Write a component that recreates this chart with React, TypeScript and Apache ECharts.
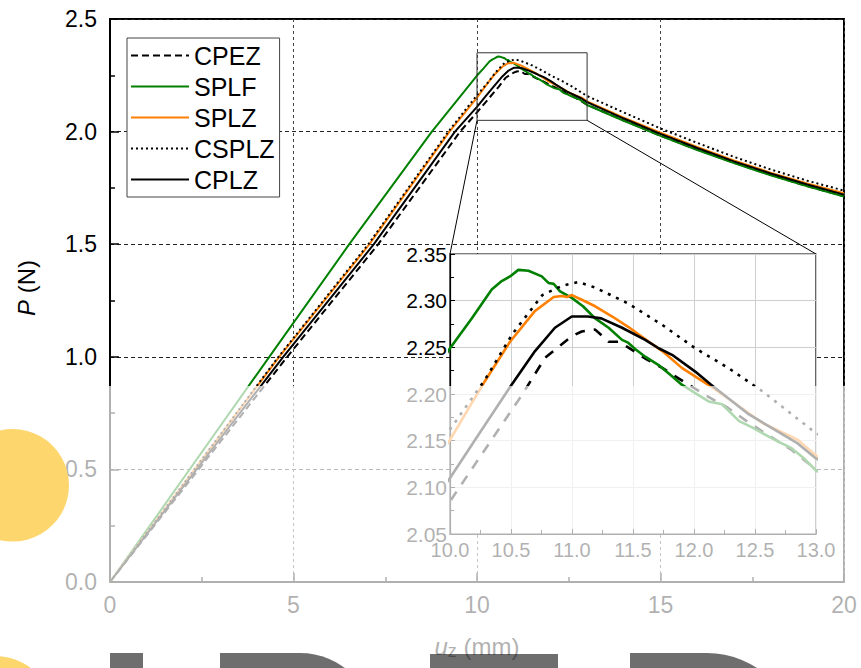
import React, { useEffect, useRef } from "react";
import * as echarts from "echarts";

// ---------- data ----------
const seriesNames = ["CPEZ", "SPLF", "SPLZ", "CSPLZ", "CPLZ"];

const cpezData = [
  [0, 0], [4.83, 1.0], [7.31, 1.5], [9.54, 2.0], [10, 2.085], [10.315, 2.146], [10.59, 2.199],
  [10.78, 2.239], [11.0, 2.262], [11.08, 2.267], [11.19, 2.269], [11.3, 2.256], [11.38, 2.256],
  [11.46, 2.25], [11.6, 2.238], [11.74, 2.228], [11.87, 2.217], [12.09, 2.199], [12.28, 2.185],
  [12.42, 2.172], [12.56, 2.16], [12.8, 2.14], [13.0, 2.119], [14, 2.049], [15, 1.982],
  [16, 1.92], [17, 1.862], [18, 1.808], [19, 1.758], [20, 1.713],
];
const splfData = [
  [0, 0], [4.34, 1.0], [6.52, 1.5], [8.77, 2.0], [10, 2.249], [10.178, 2.281], [10.342, 2.312],
  [10.424, 2.321], [10.492, 2.326], [10.56, 2.333], [10.643, 2.332], [10.752, 2.326],
  [10.807, 2.319], [10.85, 2.318], [10.902, 2.31], [10.998, 2.303], [11.09, 2.294],
  [11.19, 2.281], [11.3, 2.271], [11.41, 2.258], [11.46, 2.255], [11.52, 2.248], [11.6, 2.24],
  [11.71, 2.231], [11.82, 2.219], [11.9, 2.21], [12.01, 2.201], [12.12, 2.192], [12.23, 2.189],
  [12.37, 2.171], [12.48, 2.164], [12.56, 2.158], [12.69, 2.149], [12.8, 2.142], [12.91, 2.13],
  [13.0, 2.118], [14, 2.048], [15, 1.981], [16, 1.918], [17, 1.86], [18, 1.806], [19, 1.757],
  [20, 1.712],
];
const splzData = [
  [0, 0], [4.61, 1.0], [7.07, 1.5], [9.25, 2.0], [10, 2.151], [10.287, 2.214], [10.492, 2.256],
  [10.697, 2.289], [10.85, 2.304], [10.916, 2.305], [10.96, 2.304], [10.998, 2.306],
  [11.08, 2.301], [11.19, 2.294], [11.33, 2.283], [11.46, 2.272], [11.63, 2.256], [11.74, 2.246],
  [11.9, 2.228], [12.14, 2.208], [12.39, 2.185], [12.56, 2.169], [12.85, 2.151], [13.0, 2.134],
  [14, 2.062], [15, 1.995], [16, 1.932], [17, 1.872], [18, 1.818], [19, 1.77], [20, 1.726],
];
const csplzData = [
  [0, 0], [4.59, 1.0], [7.04, 1.5], [9.22, 2.0], [10, 2.162], [10.29, 2.216], [10.51, 2.264],
  [10.757, 2.306], [10.92, 2.316], [11.05, 2.32], [11.19, 2.314], [11.46, 2.297], [11.74, 2.274],
  [12.01, 2.249], [12.28, 2.228], [12.56, 2.203], [13.0, 2.158], [14, 2.085], [15, 2.014],
  [16, 1.95], [17, 1.888], [18, 1.832], [19, 1.782], [20, 1.738],
];
const cplzData = [
  [0, 0], [4.72, 1.0], [7.19, 1.5], [9.4, 2.0], [10, 2.11], [10.232, 2.156], [10.505, 2.21],
  [10.697, 2.246], [10.86, 2.271], [10.998, 2.283], [11.13, 2.283], [11.24, 2.281], [11.41, 2.271],
  [11.6, 2.258], [11.71, 2.249], [11.82, 2.242], [12.01, 2.224], [12.14, 2.21], [12.44, 2.179],
  [12.85, 2.147], [13.0, 2.131], [14, 2.058], [15, 1.99], [16, 1.927], [17, 1.868], [18, 1.814],
  [19, 1.765], [20, 1.72],
];
const allData = [cpezData, splfData, splzData, csplzData, cplzData];

const mainXRange = [0, 20];
const mainYRange = [0, 2.5];
const insetXRange = [10, 13];
const insetYRange = [2.05, 2.35];

// ---------- styles ----------
const FONT = "'Liberation Sans', Arial, Helvetica, sans-serif";
const colors = ["#000000", "#008000", "#ff7f00", "#000000", "#000000"];
const mainDash: any[] = [[7, 4], "solid", "solid", [2, 3], "solid"];
const insetDash: any[] = [[10, 9], "solid", "solid", [3, 6], "solid"];

export default function App() {
  const ref = useRef<HTMLDivElement>(null);

  useEffect(() => {
    const chart = echarts.init(ref.current!, undefined, { renderer: "svg" });

    const mainSeries = seriesNames.map((name, i) => ({
      type: "line",
      name,
      xAxisIndex: 0,
      yAxisIndex: 0,
      data: allData[i],
      showSymbol: false,
      symbol: "none",
      z: 2,
      lineStyle: { color: colors[i], width: 2, type: mainDash[i] },
      itemStyle: { color: colors[i] },
    }));
    const insetSeries = seriesNames.map((name, i) => ({
      type: "line",
      name,
      xAxisIndex: 1,
      yAxisIndex: 1,
      data: allData[i],
      showSymbol: false,
      symbol: "none",
      clip: true,
      z: 12,
      lineStyle: { color: colors[i], width: 2.6, type: insetDash[i] },
      itemStyle: { color: colors[i] },
    }));
    const zoomRect = {
      type: "line",
      name: "zoomRect",
      xAxisIndex: 0,
      yAxisIndex: 0,
      data: [
        [insetXRange[0], insetYRange[0]],
        [insetXRange[1], insetYRange[0]],
        [insetXRange[1], insetYRange[1]],
        [insetXRange[0], insetYRange[1]],
        [insetXRange[0], insetYRange[0]],
      ],
      showSymbol: false,
      symbol: "none",
      silent: true,
      z: 3,
      lineStyle: { color: "#333", width: 1 },
    };

    const axisLabelMain = { color: "#000", fontSize: 23, fontFamily: FONT };

    chart.setOption({
      animation: false,
      backgroundColor: "#fff",
      textStyle: { fontFamily: FONT },
      grid: [
        {
          left: 110, top: 19, width: 734, height: 563,
          show: true, borderColor: "#000", borderWidth: 2, backgroundColor: "#fff",
        },
        {
          left: 450, top: 254, width: 366, height: 280, z: 10,
          show: true, borderColor: "#000", borderWidth: 1.2, backgroundColor: "#fff",
        },
      ],
      legend: {
        data: seriesNames,
        orient: "vertical",
        left: 127,
        top: 38,
        padding: [5, 5, 5, 3],
        itemWidth: 58,
        itemHeight: 14,
        itemGap: 6,
        backgroundColor: "#fff",
        borderColor: "#444",
        borderWidth: 1,
        borderRadius: 0,
        itemStyle: { opacity: 0 },
        textStyle: { fontSize: 25, color: "#000", fontFamily: FONT },
      },
      xAxis: [
        {
          type: "value", gridIndex: 0, min: mainXRange[0], max: mainXRange[1], interval: 5,
          name: "{i|u}{s|z} (mm)",
          nameLocation: "middle",
          nameGap: 50,
          nameTextStyle: {
            fontSize: 24, color: "#000", fontFamily: FONT, lineHeight: 28,
            rich: {
              i: { fontStyle: "italic", fontSize: 24, lineHeight: 28, fontFamily: FONT, color: "#000" },
              s: { fontSize: 18, lineHeight: 18, verticalAlign: "bottom", fontFamily: FONT, color: "#000" },
            },
          },
          axisLine: { lineStyle: { color: "#000", width: 2 } },
          axisTick: { inside: true, length: 9, lineStyle: { color: "#000", width: 1.5 } },
          minorTick: { show: true, splitNumber: 2, length: 5, lineStyle: { color: "#000", width: 1.5 } },
          splitLine: { show: true, lineStyle: { color: "#444", width: 1, type: [3, 3] } },
          axisLabel: { ...axisLabelMain, margin: 11 },
        },
        {
          type: "value", gridIndex: 1, min: insetXRange[0], max: insetXRange[1], interval: 0.5, z: 11,
          axisLine: { lineStyle: { color: "#000", width: 1.2 } },
          axisTick: { inside: true, length: 5, lineStyle: { color: "#000" } },
          minorTick: { show: true, splitNumber: 2, length: 4, lineStyle: { color: "#000" } },
          splitLine: { show: true, lineStyle: { color: "#cfcfcf", width: 1 } },
          axisLabel: {
            color: "#000", fontSize: 20, fontFamily: FONT, margin: 6,
            formatter: (v: number) => v.toFixed(1),
          },
        },
      ],
      yAxis: [
        {
          type: "value", gridIndex: 0, min: mainYRange[0], max: mainYRange[1], interval: 0.5,
          name: "{i|P} (N)",
          nameLocation: "middle",
          nameGap: 72,
          nameTextStyle: {
            fontSize: 24, color: "#000", fontFamily: FONT, padding: [0, 0, 0, 25],
            rich: { i: { fontStyle: "italic", fontSize: 24, fontFamily: FONT, color: "#000" } },
          },
          axisLine: { lineStyle: { color: "#000", width: 2 } },
          axisTick: { inside: true, length: 9, lineStyle: { color: "#000", width: 1.5 } },
          minorTick: { show: true, splitNumber: 2, length: 5, lineStyle: { color: "#000", width: 1.5 } },
          splitLine: { show: true, lineStyle: { color: "#222", width: 1, type: [4, 3] } },
          axisLabel: { ...axisLabelMain, margin: 13, formatter: (v: number) => v.toFixed(1) },
        },
        {
          type: "value", gridIndex: 1, min: insetYRange[0], max: insetYRange[1], interval: 0.05, z: 11,
          axisLine: { lineStyle: { color: "#000", width: 1.2 } },
          axisTick: { inside: true, length: 5, lineStyle: { color: "#000" } },
          minorTick: { show: true, splitNumber: 2, length: 4, lineStyle: { color: "#000" } },
          splitLine: { show: true, lineStyle: { color: "#cfcfcf", width: 1 } },
          axisLabel: {
            color: "#000", fontSize: 21, fontFamily: FONT, margin: 3,
            formatter: (v: number) => v.toFixed(2),
          },
        },
      ],
      series: [...mainSeries, zoomRect, ...insetSeries],
    });

    // connector lines between zoom rectangle and inset
    const a1 = chart.convertToPixel({ gridIndex: 0 } as any, [insetXRange[0], insetYRange[0]]) as number[];
    const b1 = chart.convertToPixel({ gridIndex: 1 } as any, [insetXRange[0], insetYRange[1]]) as number[];
    const a2 = chart.convertToPixel({ gridIndex: 0 } as any, [insetXRange[1], insetYRange[0]]) as number[];
    const b2 = chart.convertToPixel({ gridIndex: 1 } as any, [insetXRange[1], insetYRange[1]]) as number[];

    const veil = "rgba(0,0,0,0.57)";
    const yellow = "#fdd66e";
    chart.setOption({
      graphic: [
        { type: "line", z: 5, silent: true, shape: { x1: a1[0], y1: a1[1], x2: b1[0], y2: b1[1] }, style: { stroke: "#000", lineWidth: 1 } },
        { type: "line", z: 5, silent: true, shape: { x1: a2[0], y1: a2[1], x2: b2[0], y2: b2[1] }, style: { stroke: "#000", lineWidth: 1 } },
        // watermark overlay seen in the reference
        { type: "rect", z: 100, silent: true, shape: { x: 0, y: 386, width: 861, height: 282 }, style: { fill: "rgba(255,255,255,0.69)" } },
        { type: "circle", z: 101, silent: true, shape: { cx: 12.7, cy: 485.3, r: 56.3 }, style: { fill: yellow } },
        { type: "circle", z: 101, silent: true, shape: { cx: -4, cy: 712, r: 56 }, style: { fill: yellow } },
        { type: "rect", z: 101, silent: true, shape: { x: 110, y: 653, width: 33, height: 15 }, style: { fill: veil } },
        { type: "rect", z: 101, silent: true, shape: { x: 220, y: 653, width: 80, height: 15 }, style: { fill: veil } },
        { type: "sector", z: 101, silent: true, shape: { cx: 300, cy: 728, r0: 0, r: 75, startAngle: -Math.PI / 2, endAngle: 0, clockwise: true }, style: { fill: veil } },
        { type: "rect", z: 101, silent: true, shape: { x: 430, y: 654, width: 128, height: 14 }, style: { fill: veil } },
        { type: "rect", z: 101, silent: true, shape: { x: 630, y: 653, width: 77, height: 15 }, style: { fill: veil } },
        { type: "sector", z: 101, silent: true, shape: { cx: 707, cy: 744, r0: 0, r: 91, startAngle: -Math.PI / 2, endAngle: 0, clockwise: true }, style: { fill: veil } },
      ],
    });

    return () => chart.dispose();
  }, []);

  return (
    <div
      ref={ref}
      style={{ position: "absolute", left: 0, top: 0, width: 861, height: 668 }}
    />
  );
}
